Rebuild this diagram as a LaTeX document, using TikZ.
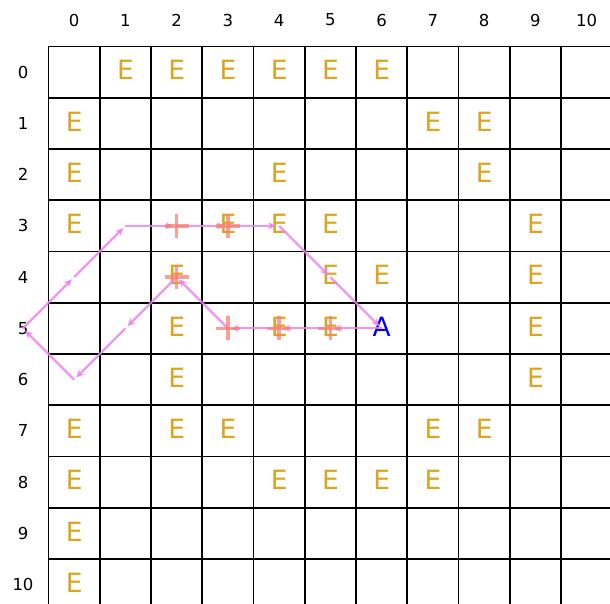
\documentclass[tikz,border=0pt]{standalone}
\usepackage{fontspec}
\setmainfont{DejaVu Sans}
\usetikzlibrary{arrows.meta}
\definecolor{egold}{RGB}{218,165,32}
\definecolor{pathc}{RGB}{238,130,238}
\definecolor{plusc}{RGB}{250,128,114}
\begin{document}
\begin{tikzpicture}[x=1pt,y=-1pt,
  gridline/.style={draw=black,line width=1.6pt},
  lab/.style={inner sep=0pt,font=\fontsize{16.5}{18}\selectfont,text=black},
  eletter/.style={inner sep=0pt,font=\fontsize{26.5}{28}\selectfont,text=egold},
  aletter/.style={inner sep=0pt,font=\fontsize{26.5}{28}\selectfont,text=blue},
  pathline/.style={draw=pathc,draw opacity=0.85,line width=2.2pt,
    -{Stealth[length=8pt,width=7pt]},shorten >=3pt},
  plusmark/.style={draw=plusc,draw opacity=0.75,line width=3.5pt}
]
\def\ox{48.5}\def\oy{46.5}\def\cs{51.25}
\useasboundingbox (0,0) rectangle (610,604);
\begin{scope}
\clip (0,0) rectangle (610,604);
% grid
\foreach \k in {0,...,11}{
  \pgfmathsetmacro\gx{\ox+\cs*\k}
  \pgfmathsetmacro\gy{\oy+\cs*\k}
  \draw[gridline] (\gx,\oy) -- (\gx,620);
  \draw[gridline] (\ox,\gy) -- (620,\gy);
}
% cell centres
\foreach \c in {-1,0,...,10}{
  \foreach \r in {0,...,10}{
    \pgfmathsetmacro\cx{\ox+\cs*(\c+0.5)}
    \pgfmathsetmacro\cy{\oy+\cs*(\r+0.5)}
    \coordinate (c\c-\r) at (\cx,\cy);
  }
}
% axis labels
\foreach \c in {0,...,10}{
  \pgfmathsetmacro\cx{\ox+\cs*(\c+0.5)}
  \node[lab] (col\c) at (\cx,20) {\c};
  \node[lab] (row\c) at (23,{\oy+\cs*(\c+0.5)}) {\c};
}
% E letters
\foreach \c/\r in {1/0,2/0,3/0,4/0,5/0,6/0,
  0/1,7/1,8/1, 0/2,4/2,8/2, 0/3,3/3,4/3,5/3,9/3,
  2/4,5/4,6/4,9/4, 2/5,4/5,5/5,9/5, 2/6,9/6,
  0/7,2/7,3/7,7/7,8/7, 0/8,4/8,5/8,6/8,7/8, 0/9, 0/10}{
  \node[eletter,yshift=2pt] (e\c-\r) at (c\c-\r) {E};
}
\node[aletter,yshift=2pt] (agent) at (c6-5) {A};
% path
\foreach \a/\b in {6-5/5-5,5-5/4-5,4-5/3-5,3-5/2-4,2-4/1-5,1-5/0-6,0-6/-1-5,
  -1-5/0-4,0-4/1-3,1-3/2-3,2-3/3-3,3-3/4-3,4-3/5-4,5-4/6-5}{
  \draw[pathline] (c\a) -- (c\b);
}
% plus markers
\foreach \p in {2-3,3-3,2-4,3-5,4-5,5-5}{
  \draw[plusmark] ([xshift=-12pt]c\p) -- ([xshift=12pt]c\p);
  \draw[plusmark] ([yshift=-12pt]c\p) -- ([yshift=12pt]c\p);
}
\end{scope}
\end{tikzpicture}
\end{document}
